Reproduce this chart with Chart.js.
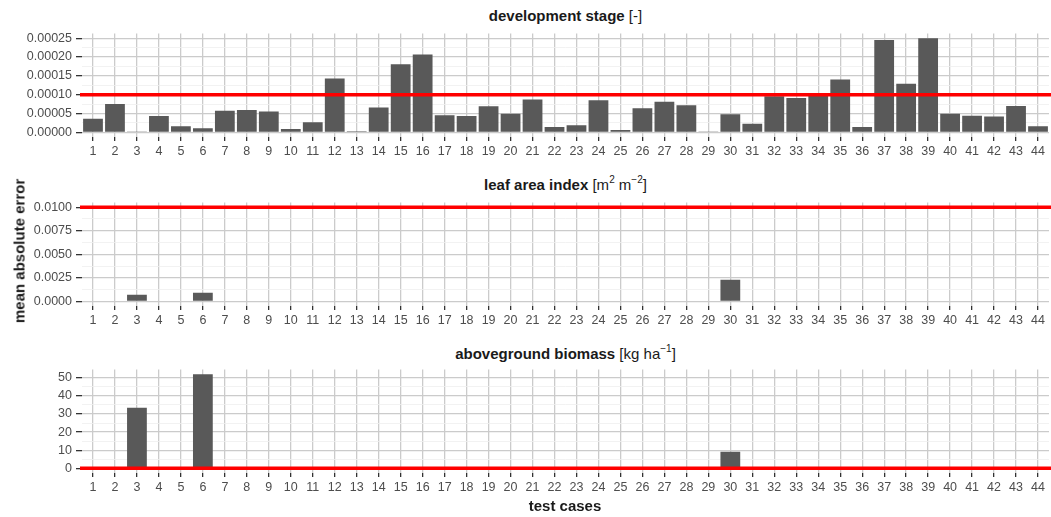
<!DOCTYPE html>
<html>
<head>
<meta charset="utf-8">
<script src="https://cdn.jsdelivr.net/npm/chart.js@4/dist/chart.umd.min.js"></script>
<style>
  html, body { margin: 0; padding: 0; background: #fff; }
  #wrap { position: relative; width: 1051px; height: 517px; overflow: hidden; font-family: 'Liberation Sans', Arial, sans-serif; color: #1a1a1a; }
  canvas { position: absolute; left: 0; }
  .title { position: absolute; left: 80px; width: 971px; height: 18px; line-height: 18px; text-align: center; font-size: 15px; white-space: nowrap; }
  .title b { font-weight: bold; }
  sup { font-size: 10px; line-height: 0; position: relative; top: -1px; }
  #ytitle { position: absolute; left: 19px; top: 251px; transform: translate(-50%, -50%) rotate(-90deg); font-weight: bold; font-size: 15px; white-space: nowrap; }
  #xtitle { position: absolute; left: 565px; top: 505px; transform: translate(-50%, -50%); font-weight: bold; font-size: 15px; white-space: nowrap; }
</style>
</head>
<body>
<div id="wrap">
  <div class="title" style="top: 7px"><b>development stage</b> [-]</div>
  <canvas id="dev-chart" width="1051" height="140" style="top: 22px"></canvas>

  <div class="title" style="top: 176px"><b>leaf area index</b> [m<sup>2</sup> m<sup>&minus;2</sup>]</div>
  <canvas id="lai-chart" width="1051" height="140" style="top: 191px"></canvas>

  <div class="title" style="top: 345px"><b>aboveground biomass</b> [kg ha<sup>&minus;1</sup>]</div>
  <canvas id="bio-chart" width="1051" height="140" style="top: 358px"></canvas>

  <div id="ytitle">mean absolute error</div>
  <div id="xtitle">test cases</div>
</div>
<script>
// Categories
const testCases = Array.from({ length: 44 }, (_, i) => String(i + 1))

// Series values (mean absolute error per test case)
const devStage = [
    0.000036, 0.000075, 0.000001, 0.000043, 0.000016, 0.000011, 0.000057, 0.000059, 0.000055, 0.000009, 0.000027,
    0.000143, 0.000003, 0.000066, 0.000181, 0.000207, 0.000045, 0.000043, 0.000069, 0.000049, 0.000087, 0.000014,
    0.000019, 0.000085, 0.000006, 0.000064, 0.000081, 0.000072, 0.000001, 0.000048, 0.000023, 0.000096, 0.000091,
    0.000099, 0.000140, 0.000014, 0.000245, 0.000129, 0.000250, 0.000049, 0.000044, 0.000042, 0.000070, 0.000016
]
const leafAreaIndex = [
    0, 0, 0.0007, 0, 0, 0.00091, 0, 0, 0, 0, 0,
    0, 0, 0, 0, 0, 0, 0, 0, 0, 0, 0,
    0, 0, 0, 0, 0, 0, 0, 0.0023, 0, 0, 0,
    0, 0, 0, 0, 0, 0, 0, 0, 0, 0, 0
]
const biomass = [
    0, 0, 33.4, 0, 0, 52.0, 0, 0, 0, 0, 0,
    0, 0, 0, 0, 0, 0, 0, 0, 0, 0, 0,
    0, 0, 0, 0, 0, 0, 0, 9.1, 0, 0, 0,
    0, 0, 0, 0, 0, 0, 0, 0, 0, 0, 0
]

// Thresholds (red lines)
const devLimit = 0.0001
const laiLimit = 0.01
const bioLimit = 0

// Tick labels
const devTicks = ['0.00000', '0.00005', '0.00010', '0.00015', '0.00020', '0.00025']
const laiTicks = ['0.0000', '0.0025', '0.0050', '0.0075', '0.0100']
const bioTicks = ['0', '10', '20', '30', '40', '50']

Chart.defaults.font.family = "'Liberation Sans', Arial, sans-serif"
Chart.defaults.animation = false

// ggplot pads a discrete axis by 0.6 of a category, Chart.js by 0.5
const EXTRA = 2

const limitLine = {
    id: 'limitLine',
    afterDatasetsDraw(chart, args, opts) {
        const { ctx, chartArea, scales } = chart
        const y = scales.y.getPixelForValue(opts.value)
        ctx.save()
        ctx.strokeStyle = '#ff0000'
        ctx.lineWidth = 3.5
        ctx.beginPath()
        ctx.moveTo(chartArea.left - EXTRA, y)
        ctx.lineTo(chartArea.right + EXTRA, y)
        ctx.stroke()
        ctx.restore()
    }
}

function panel(id, values, tickLabels, limit, min, max) {
    // major ticks plus minor midpoints, like ggplot's grid
    const major = tickLabels.map(Number)
    const ticks = []
    major.forEach((v, i) => {
        ticks.push({ value: v, label: tickLabels[i] })
        if (i < major.length - 1) ticks.push({ value: (v + major[i + 1]) / 2, label: '', minor: true })
    })

    return new Chart(document.getElementById(id), {
        type: 'bar',
        data: {
            labels: testCases,
            datasets: [{
                data: values,
                backgroundColor: '#595959',
                borderWidth: 0,
                barPercentage: 0.9,
                categoryPercentage: 1
            }]
        },
        options: {
            responsive: false,
            layout: { padding: { top: 10, left: 0, right: EXTRA, bottom: 0 } },
            plugins: {
                legend: { display: false },
                tooltip: { enabled: false },
                limitLine: { value: limit }
            },
            scales: {
                x: {
                    offset: true,
                    border: { display: false },
                    grid: { offset: false, color: '#cbcbcb', lineWidth: 1.3, tickColor: '#333333', tickLength: 4 },
                    ticks: { autoSkip: false, maxRotation: 0, color: '#4d4d4d', font: { size: 12.5 }, padding: 3 },
                    afterFit: s => { s.height = 25 }
                },
                y: {
                    min: min,
                    max: max,
                    border: { display: false },
                    afterBuildTicks: s => { s.ticks = ticks.map(t => ({ value: t.value, minor: !!t.minor })) },
                    grid: {
                        color: c => c.tick && c.tick.minor ? '#efefef' : '#cbcbcb',
                        lineWidth: c => c.tick && c.tick.minor ? 0.8 : 1.3,
                        tickColor: c => c.tick && c.tick.minor ? 'rgba(0,0,0,0)' : '#333333',
                        tickLength: 4 + EXTRA
                    },
                    ticks: {
                        autoSkip: false,
                        color: '#4d4d4d',
                        font: { size: 12.5 },
                        padding: 4,
                        callback: (value, i) => ticks[i].label
                    },
                    afterFit: s => { s.width = 80 + EXTRA }
                }
            }
        },
        plugins: [limitLine]
    })
}

panel('dev-chart', devStage, devTicks, devLimit, -0.0000125, 0.0002625)
panel('lai-chart', leafAreaIndex, laiTicks, laiLimit, -0.0005, 0.0105)
panel('bio-chart', biomass, bioTicks, bioLimit, -2.6, 54.6)
</script>
</body>
</html>
